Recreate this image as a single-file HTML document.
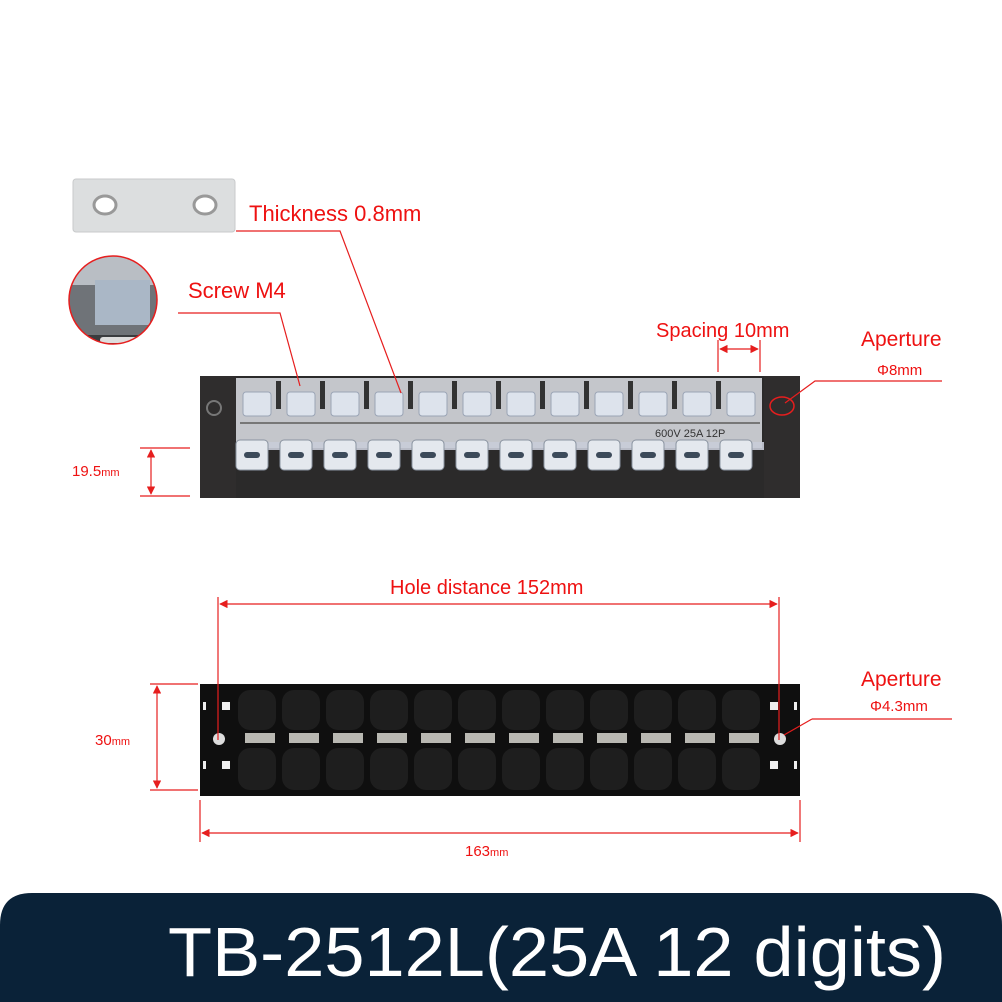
<!DOCTYPE html>
<html><head><meta charset="utf-8"><style>
html,body{margin:0;padding:0;background:#fff}
svg{display:block}
text{font-family:"Liberation Sans",sans-serif}
</style></head><body>
<svg width="1002" height="1002" viewBox="0 0 1002 1002" xmlns="http://www.w3.org/2000/svg">
<defs>
<marker id="ar" viewBox="0 0 10 10" refX="9" refY="5" markerWidth="7" markerHeight="7" orient="auto-start-reverse"><path d="M0,0 L10,5 L0,10 z" fill="#e61e1e"/></marker>
<clipPath id="cc"><circle cx="113" cy="300" r="44"/></clipPath>
</defs>
<rect width="1002" height="1002" fill="#fff"/>

<!-- plate -->
<rect x="73" y="179" width="162" height="53" rx="3" fill="#dcdedf" stroke="#c8cacb"/>
<ellipse cx="105" cy="205" rx="11" ry="9" fill="#fff" stroke="#999" stroke-width="3"/>
<ellipse cx="205" cy="205" rx="11" ry="9" fill="#fff" stroke="#999" stroke-width="3"/>

<!-- zoom circle -->
<g clip-path="url(#cc)">
<rect x="60" y="250" width="110" height="100" fill="#6f7378"/>
<rect x="60" y="255" width="110" height="30" fill="#b9bec4"/>
<rect x="95" y="280" width="55" height="45" fill="#aab7c6"/>
<rect x="60" y="335" width="110" height="20" fill="#3a3c3f"/>
<rect x="100" y="337" width="60" height="6" rx="3" fill="#ddd"/>
</g>
<circle cx="113" cy="300" r="44" fill="none" stroke="#e61e1e" stroke-width="1.5"/>

<!-- top terminal block -->
<rect x="200" y="376" width="600" height="122" fill="#2b2a2a"/>
<rect x="236" y="378" width="526" height="70" fill="#c4c6cb"/>
<g fill="#333">
<rect x="276" y="381" width="5" height="28"/><rect x="320" y="381" width="5" height="28"/><rect x="364" y="381" width="5" height="28"/><rect x="408" y="381" width="5" height="28"/><rect x="452" y="381" width="5" height="28"/><rect x="496" y="381" width="5" height="28"/><rect x="540" y="381" width="5" height="28"/><rect x="584" y="381" width="5" height="28"/><rect x="628" y="381" width="5" height="28"/><rect x="672" y="381" width="5" height="28"/><rect x="716" y="381" width="5" height="28"/>
</g>
<rect x="240" y="422" width="520" height="2" fill="#777"/>
<rect x="200" y="442" width="600" height="8" fill="#c9ccd8" opacity="0.9"/>
<rect x="200" y="376" width="36" height="122" fill="#2f2d2d"/>
<rect x="764" y="376" width="36" height="122" fill="#2f2d2d"/>
<circle cx="214" cy="408" r="7" fill="none" stroke="#777" stroke-width="2"/>
<g fill="#dde3ec" stroke="#9aa4b5" stroke-width="1">
<rect x="243" y="392" width="28" height="24" rx="3"/><rect x="287" y="392" width="28" height="24" rx="3"/><rect x="331" y="392" width="28" height="24" rx="3"/><rect x="375" y="392" width="28" height="24" rx="3"/><rect x="419" y="392" width="28" height="24" rx="3"/><rect x="463" y="392" width="28" height="24" rx="3"/><rect x="507" y="392" width="28" height="24" rx="3"/><rect x="551" y="392" width="28" height="24" rx="3"/><rect x="595" y="392" width="28" height="24" rx="3"/><rect x="639" y="392" width="28" height="24" rx="3"/><rect x="683" y="392" width="28" height="24" rx="3"/><rect x="727" y="392" width="28" height="24" rx="3"/>
</g>
<g fill="#e4e8ee" stroke="#8a93a0" stroke-width="1">
<rect x="236" y="440" width="32" height="30" rx="4"/><rect x="280" y="440" width="32" height="30" rx="4"/><rect x="324" y="440" width="32" height="30" rx="4"/><rect x="368" y="440" width="32" height="30" rx="4"/><rect x="412" y="440" width="32" height="30" rx="4"/><rect x="456" y="440" width="32" height="30" rx="4"/><rect x="500" y="440" width="32" height="30" rx="4"/><rect x="544" y="440" width="32" height="30" rx="4"/><rect x="588" y="440" width="32" height="30" rx="4"/><rect x="632" y="440" width="32" height="30" rx="4"/><rect x="676" y="440" width="32" height="30" rx="4"/><rect x="720" y="440" width="32" height="30" rx="4"/>
</g>
<g fill="#3c4a5a"><rect x="244" y="452" width="16" height="6" rx="3"/><rect x="288" y="452" width="16" height="6" rx="3"/><rect x="332" y="452" width="16" height="6" rx="3"/><rect x="376" y="452" width="16" height="6" rx="3"/><rect x="420" y="452" width="16" height="6" rx="3"/><rect x="464" y="452" width="16" height="6" rx="3"/><rect x="508" y="452" width="16" height="6" rx="3"/><rect x="552" y="452" width="16" height="6" rx="3"/><rect x="596" y="452" width="16" height="6" rx="3"/><rect x="640" y="452" width="16" height="6" rx="3"/><rect x="684" y="452" width="16" height="6" rx="3"/><rect x="728" y="452" width="16" height="6" rx="3"/></g>
<text x="655" y="437" font-size="11" fill="#333">600V 25A 12P</text>
<ellipse cx="782" cy="406" rx="12" ry="9" fill="none" stroke="#e61e1e" stroke-width="1.5"/>

<!-- bottom terminal block -->
<rect x="200" y="684" width="600" height="112" fill="#0f0f0f"/>
<g fill="#1e1e1e">
<rect x="238" y="690" width="38" height="40" rx="12"/><rect x="282" y="690" width="38" height="40" rx="12"/><rect x="326" y="690" width="38" height="40" rx="12"/><rect x="370" y="690" width="38" height="40" rx="12"/><rect x="414" y="690" width="38" height="40" rx="12"/><rect x="458" y="690" width="38" height="40" rx="12"/><rect x="502" y="690" width="38" height="40" rx="12"/><rect x="546" y="690" width="38" height="40" rx="12"/><rect x="590" y="690" width="38" height="40" rx="12"/><rect x="634" y="690" width="38" height="40" rx="12"/><rect x="678" y="690" width="38" height="40" rx="12"/><rect x="722" y="690" width="38" height="40" rx="12"/>
<rect x="238" y="748" width="38" height="42" rx="12"/><rect x="282" y="748" width="38" height="42" rx="12"/><rect x="326" y="748" width="38" height="42" rx="12"/><rect x="370" y="748" width="38" height="42" rx="12"/><rect x="414" y="748" width="38" height="42" rx="12"/><rect x="458" y="748" width="38" height="42" rx="12"/><rect x="502" y="748" width="38" height="42" rx="12"/><rect x="546" y="748" width="38" height="42" rx="12"/><rect x="590" y="748" width="38" height="42" rx="12"/><rect x="634" y="748" width="38" height="42" rx="12"/><rect x="678" y="748" width="38" height="42" rx="12"/><rect x="722" y="748" width="38" height="42" rx="12"/>
</g>
<g fill="#b9b8b2">
<rect x="245" y="733" width="30" height="10"/><rect x="289" y="733" width="30" height="10"/><rect x="333" y="733" width="30" height="10"/><rect x="377" y="733" width="30" height="10"/><rect x="421" y="733" width="30" height="10"/><rect x="465" y="733" width="30" height="10"/><rect x="509" y="733" width="30" height="10"/><rect x="553" y="733" width="30" height="10"/><rect x="597" y="733" width="30" height="10"/><rect x="641" y="733" width="30" height="10"/><rect x="685" y="733" width="30" height="10"/><rect x="729" y="733" width="30" height="10"/>
</g>
<g fill="#eee"><rect x="222" y="702" width="8" height="8"/><rect x="222" y="761" width="8" height="8"/><rect x="770" y="702" width="8" height="8"/><rect x="770" y="761" width="8" height="8"/><rect x="203" y="702" width="3" height="8"/><rect x="203" y="761" width="3" height="8"/><rect x="794" y="702" width="3" height="8"/><rect x="794" y="761" width="3" height="8"/></g>
<circle cx="219" cy="739" r="6" fill="#ddd"/>
<circle cx="780" cy="739" r="6" fill="#ddd"/>

<!-- leaders -->
<g stroke="#e61e1e" stroke-width="1.2" fill="none">
<polyline points="236,231 340,231 401,393"/>
<polyline points="178,313 280,313 300,386"/>
<polyline points="785,403 815,381 942,381"/>
<line x1="718" y1="340" x2="718" y2="372"/><line x1="760" y1="340" x2="760" y2="372"/>
<line x1="720" y1="349" x2="758" y2="349" marker-start="url(#ar)" marker-end="url(#ar)"/>
<line x1="140" y1="448" x2="190" y2="448"/><line x1="140" y1="496" x2="190" y2="496"/>
<line x1="151" y1="450" x2="151" y2="494" marker-start="url(#ar)" marker-end="url(#ar)"/>
<line x1="218" y1="597" x2="218" y2="740"/><line x1="779" y1="597" x2="779" y2="740"/>
<line x1="220" y1="604" x2="777" y2="604" marker-start="url(#ar)" marker-end="url(#ar)"/>
<line x1="784" y1="735" x2="812" y2="719"/><line x1="812" y1="719" x2="952" y2="719"/>
<line x1="150" y1="684" x2="198" y2="684"/><line x1="150" y1="790" x2="198" y2="790"/>
<line x1="157" y1="686" x2="157" y2="788" marker-start="url(#ar)" marker-end="url(#ar)"/>
<line x1="200" y1="800" x2="200" y2="842"/><line x1="800" y1="800" x2="800" y2="842"/>
<line x1="202" y1="833" x2="798" y2="833" marker-start="url(#ar)" marker-end="url(#ar)"/>
</g>

<!-- labels -->
<g fill="#ee1111">
<text x="249" y="221" font-size="22">Thickness 0.8mm</text>
<text x="188" y="298" font-size="22">Screw M4</text>
<text x="656" y="337" font-size="20">Spacing 10mm</text>
<text x="861" y="346" font-size="21">Aperture</text>
<text x="877" y="375" font-size="15">Φ8mm</text>
<text x="72" y="476" font-size="15">19.5<tspan font-size="11">mm</tspan></text>
<text x="390" y="594" font-size="20">Hole distance 152mm</text>
<text x="861" y="686" font-size="21">Aperture</text>
<text x="870" y="711" font-size="15">Φ4.3mm</text>
<text x="95" y="745" font-size="15">30<tspan font-size="11">mm</tspan></text>
<text x="465" y="856" font-size="15">163<tspan font-size="11">mm</tspan></text>
</g>

<!-- banner -->
<path d="M0,1002 L0,925 Q0,893 32,893 L970,893 Q1002,893 1002,925 L1002,1002 Z" fill="#0a2238"/>
<text x="168" y="976" font-size="70" fill="#fff" textLength="778" lengthAdjust="spacingAndGlyphs">TB-2512L(25A 12 digits)</text>
</svg>
</body></html>
